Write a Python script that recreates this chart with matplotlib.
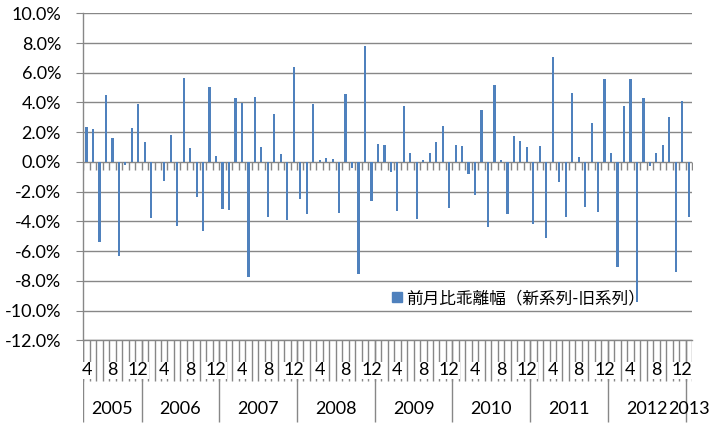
import matplotlib
matplotlib.use("Agg")
import matplotlib.pyplot as plt
from matplotlib.patches import Patch
import numpy as np

plt.rcParams['font.family'] = ['Lato', 'Noto Sans CJK JP', 'DejaVu Sans']

# monthly data, Apr 2005 .. Jan 2013
start_year = 2005
start_month = 4
values = [2.36, 2.20, -5.39, 4.47, 1.62, -6.31, -0.18, 2.31, 3.88, 1.37,
          -3.77, 0.00, -1.26, 1.80, -4.31, 5.63, 0.97, -2.36, -4.67, 5.07,
          0.40, -3.19, -3.21, 4.31, 3.97, -7.74, 4.38, 0.99, -3.68, 3.25,
          0.54, -3.93, 6.37, -2.51, -3.50, 3.88, 0.13, 0.29, 0.22, -3.43,
          4.60, -0.38, -7.52, 7.79, -2.60, 1.19, 1.12, -0.65, -3.28, 3.75,
          0.58, -3.86, 0.11, 0.63, 1.35, 2.40, -3.08, 1.17, 1.05, -0.81,
          -2.22, 3.48, -4.38, 5.19, 0.11, -3.52, 1.73, 1.44, 0.99, -4.18,
          1.10, -5.10, 7.05, -1.35, -3.70, 4.67, 0.36, -3.03, 2.60, -3.37,
          5.61, 0.58, -7.07, 3.79, 5.57, -9.43, 4.29, -0.27, 0.61, 1.17,
          3.01, -7.41, 4.09, -3.70]
series_name = "前月比乖離幅（新系列-旧系列）"

n = len(values)
idx = np.arange(n)
months = [(start_month - 1 + i) % 12 + 1 for i in range(n)]
years = [start_year + (start_month - 1 + i) // 12 for i in range(n)]

grid_c = '#878787'
bar_c = '#4F81BD'

W, H = 714, 425
fig = plt.figure(figsize=(W / 100, H / 100), dpi=100)
L, R, T, B = 83.3, 692, 13.3, 340.3
ax = fig.add_axes([L / W, 1 - B / H, (R - L) / W, (B - T) / H])

ax.bar(idx, values, width=0.34, color=bar_c, zorder=3)
ax.set_xlim(-0.5, n - 0.5)
ax.set_ylim(-12, 10)
ax.set_yticks(np.arange(-12, 10.1, 2))
ax.set_yticklabels(['%.1f%%' % v for v in np.arange(-12, 10.1, 2)])
ax.yaxis.grid(True, color=grid_c, lw=1.0)
ax.set_axisbelow(True)
ax.set_xticks([])
for s in ['top', 'right']:
    ax.spines[s].set_visible(False)
for s in ['left', 'bottom']:
    ax.spines[s].set_color(grid_c)
    ax.spines[s].set_linewidth(1.0)
ax.tick_params(axis='y', length=5, color=grid_c, pad=11, labelsize=13, labelcolor='black')

# category ticks on the zero line
bounds = np.arange(-0.5, n, 1.0)
ax.plot(bounds, np.zeros(len(bounds)), ls='', marker=3, markersize=6,
        color=grid_c, mew=1.0, zorder=2)

# legend
ax.legend(handles=[Patch(color=bar_c, label=series_name)], loc='center left',
          bbox_to_anchor=(392 / W, 1 - 298 / H), bbox_transform=fig.transFigure,
          frameon=False, handlelength=0.6, handleheight=0.6, handletextpad=0.25,
          borderpad=0, borderaxespad=0, prop={'size': 12})

# category label area
lab = fig.add_axes([L / W, 0, (R - L) / W, (H - B) / H])
lab.set_xlim(-0.5, n - 0.5)
lab.set_ylim(H - B, 0)
lab.axis('off')
lab.vlines(bounds, 0, 41, color=grid_c, lw=1.0)
year_starts = [i for i in range(n) if i == 0 or years[i] != years[i - 1]]
lab.vlines(np.array(year_starts) - 0.5, 0, 82, color=grid_c, lw=1.0)
for i in range(0, n, 4):
    lab.text(i, 30, str(months[i]), ha='center', va='center', fontsize=13,
             bbox=dict(facecolor='white', edgecolor='none', pad=0.5))
for k, s in enumerate(year_starts):
    e = year_starts[k + 1] if k + 1 < len(year_starts) else n
    lab.text((s + e - 1) / 2, 69, str(years[s]), ha='center', va='center', fontsize=13)

fig.savefig('out.png', dpi=100)
